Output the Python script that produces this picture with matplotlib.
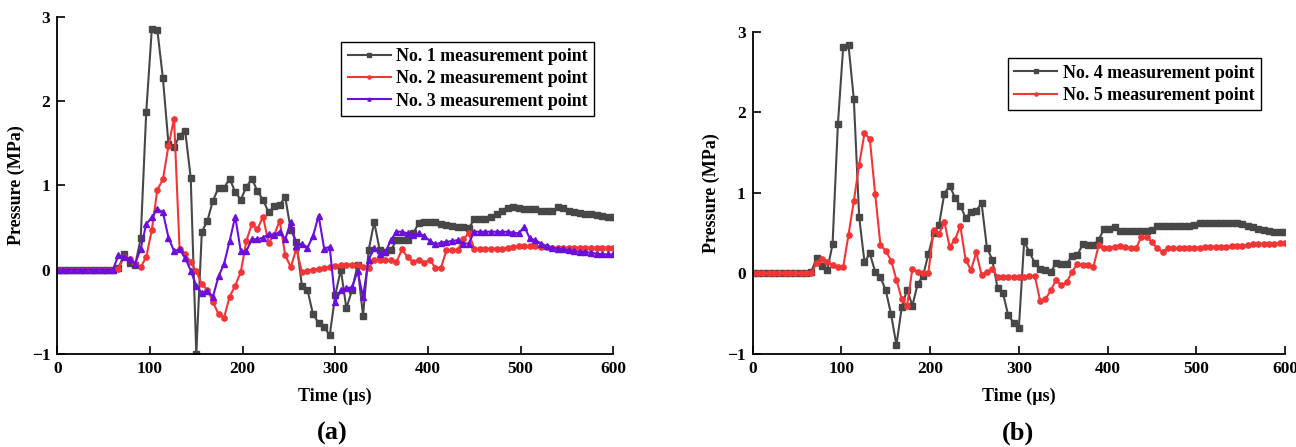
import numpy as np
import matplotlib
matplotlib.use("Agg")
import matplotlib.pyplot as plt

# sampling times (µs)
time_us = np.arange(0, 601, 6)

# (a) measurement points 1-3 (MPa)
p1 = [0, 0, 0, 0, 0, 0, 0, 0, 0, 0,
      0, 0.02, 0.18, 0.08, 0.05, 0.37, 1.87, 2.85, 2.84, 2.27,
      1.49, 1.45, 1.59, 1.65, 1.09, -1.0, 0.45, 0.58, 0.82, 0.97,
      0.97, 1.08, 0.92, 0.83, 0.98, 1.08, 0.93, 0.83, 0.68, 0.75,
      0.77, 0.86, 0.47, 0.33, -0.19, -0.24, -0.53, -0.63, -0.68, -0.78,
      -0.30, 0.0, -0.46, -0.245, 0.05, -0.55, 0.23, 0.565, 0.23, 0.21,
      0.23, 0.35, 0.35, 0.35, 0.43, 0.55, 0.56, 0.57, 0.565, 0.54,
      0.53, 0.52, 0.51, 0.51, 0.49, 0.60, 0.60, 0.60, 0.63, 0.66,
      0.70, 0.735, 0.74, 0.735, 0.72, 0.72, 0.715, 0.70, 0.70, 0.69,
      0.74, 0.735, 0.70, 0.68, 0.67, 0.66, 0.656, 0.645, 0.64, 0.625,
      0.62]
p2 = [0, 0, 0, 0, 0, 0, 0, 0, 0, 0,
      0, 0.01, 0.15, 0.13, 0.07, 0.03, 0.15, 0.47, 0.95, 1.07,
      1.47, 1.79, 0.24, 0.18, 0.09, -0.02, -0.17, -0.24, -0.38, -0.53,
      -0.57, -0.32, -0.19, -0.03, 0.34, 0.54, 0.48, 0.63, 0.32, 0.41,
      0.58, 0.17, 0.03, 0.25, -0.03, -0.01, 0.0, 0.01, 0.02, 0.03,
      0.04, 0.05, 0.06, 0.06, 0.05, 0.03, 0.02, 0.12, 0.12, 0.11,
      0.11, 0.09, 0.24, 0.15, 0.09, 0.12, 0.08, 0.12, 0.02, 0.02,
      0.23, 0.23, 0.23, 0.36, 0.43, 0.25, 0.25, 0.25, 0.25, 0.25,
      0.25, 0.26, 0.27, 0.275, 0.275, 0.275, 0.275, 0.27, 0.27, 0.26,
      0.26, 0.26, 0.26, 0.26, 0.26, 0.26, 0.26, 0.26, 0.26, 0.26,
      0.26]
p3 = [0, 0, 0, 0, 0, 0, 0, 0, 0, 0,
      0, 0.17, 0.15, 0.13, 0.07, 0.25, 0.54, 0.62, 0.72, 0.68,
      0.38, 0.22, 0.24, 0.14, -0.01, -0.19, -0.28, -0.25, -0.32, -0.08,
      0.07, 0.34, 0.63, 0.22, 0.22, 0.36, 0.36, 0.38, 0.42, 0.41,
      0.45, 0.36, 0.57, 0.28, 0.31, 0.26, 0.40, 0.64, 0.25, 0.27,
      -0.38, -0.24, -0.22, -0.21, -0.02, -0.32, 0.12, 0.26, 0.19, 0.21,
      0.35, 0.45, 0.45, 0.43, 0.41, 0.43, 0.40, 0.34, 0.30, 0.32,
      0.33, 0.34, 0.35, 0.31, 0.31, 0.45, 0.45, 0.45, 0.45, 0.45,
      0.45, 0.45, 0.44, 0.43, 0.51, 0.37, 0.35, 0.31, 0.28, 0.26,
      0.25, 0.24, 0.23, 0.22, 0.21, 0.21, 0.20, 0.19, 0.185, 0.18,
      0.18]

# (b) measurement points 4-5 (MPa)
p4 = [0, 0, 0, 0, 0, 0, 0, 0, 0, 0,
      0, 0.02, 0.19, 0.09, 0.04, 0.36, 1.85, 2.81, 2.83, 2.16,
      0.70, 0.14, 0.25, 0.02, -0.05, -0.21, -0.51, -0.89, -0.42, -0.20,
      -0.40, -0.13, -0.03, 0.24, 0.50, 0.60, 0.99, 1.09, 0.94, 0.84,
      0.69, 0.76, 0.78, 0.87, 0.32, 0.17, -0.18, -0.24, -0.52, -0.61,
      -0.68, 0.40, 0.26, 0.13, 0.05, 0.04, 0.02, 0.13, 0.12, 0.12,
      0.22, 0.23, 0.36, 0.35, 0.35, 0.42, 0.55, 0.55, 0.57, 0.53,
      0.53, 0.53, 0.53, 0.53, 0.53, 0.54, 0.59, 0.59, 0.59, 0.59,
      0.59, 0.59, 0.59, 0.60, 0.62, 0.62, 0.63, 0.63, 0.62, 0.62,
      0.62, 0.62, 0.61, 0.59, 0.57, 0.55, 0.54, 0.53, 0.52, 0.52,
      0.52]
p5 = [0, 0, 0, 0, 0, 0, 0, 0, 0, 0,
      0, 0.0, 0.13, 0.18, 0.14, 0.10, 0.08, 0.08, 0.48, 0.90,
      1.35, 1.74, 1.67, 0.99, 0.35, 0.28, 0.16, -0.08, -0.32, -0.40,
      0.06, 0.02, 0.01, 0.01, 0.54, 0.49, 0.64, 0.33, 0.42, 0.59,
      0.17, 0.04, 0.26, -0.02, 0.02, 0.05, -0.04, -0.05, -0.04, -0.04,
      -0.04, -0.04, -0.03, -0.03, -0.34, -0.32, -0.21, -0.08, -0.15, -0.11,
      0.02, 0.12, 0.10, 0.10, 0.08, 0.35, 0.31, 0.32, 0.33, 0.34,
      0.33, 0.31, 0.31, 0.45, 0.45, 0.39, 0.31, 0.27, 0.31, 0.31,
      0.31, 0.31, 0.31, 0.32, 0.32, 0.33, 0.33, 0.33, 0.33, 0.33,
      0.34, 0.34, 0.34, 0.35, 0.36, 0.36, 0.37, 0.37, 0.37, 0.375,
      0.375]

labels_a = ["No. 1 measurement point", "No. 2 measurement point", "No. 3 measurement point"]
labels_b = ["No. 4 measurement point", "No. 5 measurement point"]
x_ticks = [0, 100, 200, 300, 400, 500, 600]
y_ticks = [-1, 0, 1, 2, 3]

plt.rcParams['font.family'] = ['Liberation Serif', 'DejaVu Serif']
plt.rcParams['font.weight'] = 'bold'
plt.rcParams['axes.labelweight'] = 'bold'

C_BLACK = '#474747'
C_RED = '#f23535'
C_PURPLE = '#6a0fdc'

fig = plt.figure(figsize=(12.96, 4.47), dpi=100)
ax1 = fig.add_axes([0.0442, 0.2081, 0.4290, 0.7545])
ax2 = fig.add_axes([0.5808, 0.2081, 0.4107, 0.7210])

def style(ax):
    ax.set_xlim(0, 600)
    ax.set_ylim(-1, 3)
    ax.set_xticks(x_ticks)
    ax.set_yticks(y_ticks)
    for s in ['top', 'right']:
        ax.spines[s].set_visible(False)
    for s in ['left', 'bottom']:
        ax.spines[s].set_linewidth(1.3)
        ax.spines[s].set_color('black')
    ax.tick_params(direction='in', length=6, width=1.2, labelsize=12.5, pad=5)
    for lab in ax.get_xticklabels() + ax.get_yticklabels():
        lab.set_fontweight('bold')
    ax.set_xlabel('Time (µs)', fontsize=13, fontweight='bold', labelpad=8)
    ax.set_ylabel('Pressure (MPa)', fontsize=13, fontweight='bold', labelpad=5)

kw = dict(linewidth=1.5, markersize=3.8)
ax1.plot(time_us, p1, color=C_BLACK, marker='s', label=labels_a[0], **kw)
ax1.plot(time_us, p2, color=C_RED, marker='o', label=labels_a[1], **kw)
ax1.plot(time_us, p3, color=C_PURPLE, marker='^', label=labels_a[2], **kw)
ax2.plot(time_us, p4, color=C_BLACK, marker='s', label=labels_b[0], **kw)
ax2.plot(time_us, p5, color=C_RED, marker='o', label=labels_b[1], **kw)

for ax in (ax1, ax2):
    style(ax)

leg_kw = dict(loc='upper right', fancybox=False, framealpha=1, edgecolor='black',
              prop={'family': 'Liberation Serif', 'weight': 'bold', 'size': 12.9},
              handlelength=2.4, handletextpad=0.3, borderpad=0.35, labelspacing=0.3,
              borderaxespad=0, markerscale=0.6)
l1 = ax1.legend(bbox_to_anchor=(0.4583, 0.9067), bbox_transform=fig.transFigure, **leg_kw)
l2 = ax2.legend(bbox_to_anchor=(0.9728, 0.8696), bbox_transform=fig.transFigure, **leg_kw)
for l in (l1, l2):
    l.get_frame().set_linewidth(1.0)

fig.text(0.256, 0.031, '(a)', ha='center', va='center', fontsize=19, fontweight='bold')
fig.text(0.7855, 0.031, '(b)', ha='center', va='center', fontsize=19, fontweight='bold')

fig.savefig('out.png', dpi=100)
